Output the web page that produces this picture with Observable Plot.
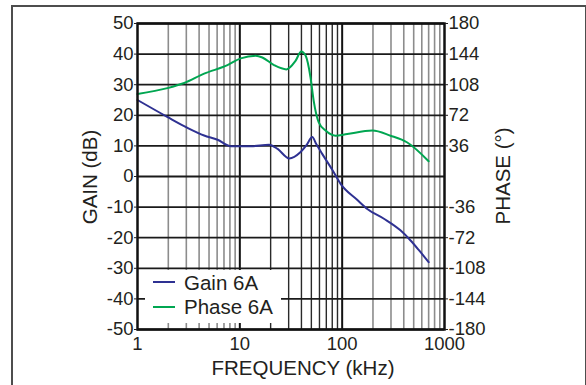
<!DOCTYPE html>
<html><head><meta charset="utf-8">
<script src="https://cdn.jsdelivr.net/npm/d3@7"></script>
<script src="https://cdn.jsdelivr.net/npm/@observablehq/plot@0.6"></script>
<style>
body{margin:0;background:#fff;font-family:"Liberation Sans",Arial,sans-serif;}
#wrap{position:relative;width:586px;height:385px;overflow:hidden;}
#border{position:absolute;left:11px;top:5px;width:576px;height:420px;border:2px solid #4d4d4d;box-sizing:border-box;}
#chart{position:absolute;left:0;top:0;}
.t{position:absolute;font-size:20.5px;color:#231f20;white-space:nowrap;line-height:1;transform:translate(-50%,-50%);}
.r{transform:translate(-50%,-50%) rotate(-90deg);}
#legend{position:absolute;left:145px;top:270px;width:136px;height:53px;background:#fff;}
.sw{position:absolute;left:153px;width:22px;height:2px;}
.lt{position:absolute;left:184px;font-size:20.5px;line-height:1;color:#231f20;white-space:nowrap;}
</style>
</head><body>
<div id="wrap">
<div id="border"></div>
<div id="chart"></div>
<div id="legend"></div>
<div class="sw" style="top:281px;background:#2e3192"></div>
<div class="sw" style="top:306px;background:#00a651"></div>
<div class="lt" style="top:272.6px">Gain 6A</div>
<div class="lt" style="top:296.6px">Phase 6A</div>
<div class="t r" style="left:90px;top:177px">GAIN (dB)</div>
<div class="t r" style="left:503px;top:176px">PHASE (°)</div>
<div class="t" style="left:303px;top:367.5px">FREQUENCY (kHz)</div>
</div>
<script>
// frequency (kHz) and gain (dB) for "Gain 6A"
const gainFreq = [1, 1.95, 3.08, 4.48, 6.06, 8.17, 12.8, 19.3, 23.4, 30.4, 39, 45, 51, 56, 63.8, 80, 96.5, 140, 176, 256, 371, 466, 560, 700];
const gainDb   = [25.0, 19.5, 15.9, 13.4, 12.0, 9.9, 9.9, 10.4, 9.0, 5.9, 7.9, 10.3, 12.9, 10.5, 7.4, 2.2, -2.4, -7.6, -10.6, -13.8, -17.6, -20.9, -24.0, -28.0];
// frequency (kHz) and phase (deg) for "Phase 6A"
const phaseFreq = [1, 1.96, 2.86, 4.48, 7.57, 10.2, 14.3, 16.6, 21.6, 28.5, 35, 39.8, 44, 49, 52.7, 58.9, 68.9, 86, 112, 197, 297, 433, 700];
const phaseDeg  = [97, 104, 110, 121, 131, 139, 142, 140, 131, 126, 136, 147, 142, 117, 89, 64, 54, 48, 50, 54, 48, 40, 18];

const gainTicks = [50, 40, 30, 20, 10, 0, -10, -20, -30, -40, -50];
const phaseTicks = [180, 144, 108, 72, 36, -36, -72, -108, -144, -180];
const freqTicks = [1, 10, 100, 1000];
const decadeLines = [10, 100];
const minorLight = [2,3,4,5,6,7,8,9,200,300,400,500,600,700,800,900];
const minorDark = [20,30,40,50,60,70,80,90];

const gainData = gainFreq.map((f, i) => ({f, v: gainDb[i]}));
const phaseData = phaseFreq.map((f, i) => ({f, v: phaseDeg[i]}));
const DEG_PER_DB = 3.6; // right axis: 180° ↔ 50 dB

const chart = Plot.plot({
  width: 586, height: 385,
  marginLeft: 137, marginRight: 142, marginTop: 23, marginBottom: 56,
  x: {type: "log", domain: [1, 1000]},
  y: {domain: [-50, 50]},
  style: {fontFamily: "'Liberation Sans', Arial, sans-serif", fontSize: "18.5px", color: "#231f20", background: "transparent", overflow: "visible"},
  marks: [
    Plot.ruleX(minorLight, {stroke: "#8c8c8c", strokeWidth: 1.6}),
    Plot.ruleX(minorDark, {stroke: "#2a2a2a", strokeWidth: 1.4}),
    Plot.ruleX(decadeLines, {stroke: "#111", strokeWidth: 2}),
    Plot.ruleY(gainTicks, {stroke: "#1a1a1a", strokeWidth: 1.8}),
    Plot.line(gainData, {x: "f", y: "v", stroke: "#2e3192", strokeWidth: 2, curve: "monotone-x"}),
    Plot.line(phaseData, {x: "f", y: d => d.v / DEG_PER_DB, stroke: "#00a651", strokeWidth: 2, curve: "monotone-x"}),
    Plot.frame({stroke: "#111", strokeWidth: 2.5}),
    Plot.axisY(gainTicks, {anchor: "left", tickSize: 3, tickPadding: 1, tickFormat: d => String(d), label: null}),
    Plot.axisY(phaseTicks.map(p => p / DEG_PER_DB), {anchor: "right", tickSize: 3, tickPadding: 1, tickFormat: d => String(Math.round(d * DEG_PER_DB)), label: null}),
    Plot.axisX(freqTicks, {anchor: "bottom", tickSize: 0, tickPadding: 7, tickFormat: d => String(d), label: null})
  ]
});
document.getElementById("chart").append(chart);
</script>
</body></html>
